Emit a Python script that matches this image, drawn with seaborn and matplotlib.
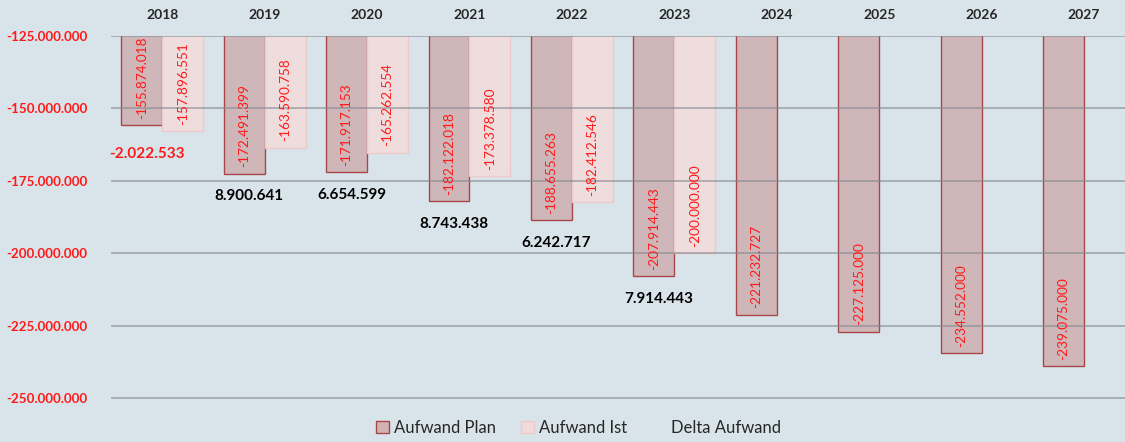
import numpy as np
import pandas as pd
import matplotlib
matplotlib.use('Agg')
import matplotlib.pyplot as plt
from matplotlib.patches import Patch
import seaborn as sns

years = ["2018", "2019", "2020", "2021", "2022", "2023", "2024", "2025", "2026", "2027"]
plan = [-155874018, -172491399, -171917153, -182122018, -188655263, -207914443,
        -221232727, -227125000, -234552000, -239075000]
ist = [-157896551, -163590758, -165262554, -173378580, -182412546, -200000000,
       np.nan, np.nan, np.nan, np.nan]
delta = [-2022533, 8900641, 6654599, 8743438, 6242717, 7914443]

bg = "#d9e4ea"
plan_fill = "#d3b2b4"
plan_edge = "#a8474a"
ist_fill = "#f2dadb"
ist_edge = "#ecc9ca"
red = "#ff1a1a"


def fmt(v):
    return f"{v:,.0f}".replace(",", ".")


df = pd.DataFrame({
    "Jahr": years * 2,
    "Wert": plan + ist,
    "Serie": ["Aufwand Plan"] * len(years) + ["Aufwand Ist"] * len(years),
})

sns.set_style("white")
plt.rcParams['font.family'] = ['Lato', 'DejaVu Sans']

fig = plt.figure(figsize=(11.25, 4.42), dpi=100, facecolor=bg)
ax = fig.add_axes([111 / 1125, 1 - 415 / 442, 1 - 111 / 1125, (415 - 36) / 442])
ax.set_facecolor(bg)

sns.barplot(data=df, x="Jahr", y="Wert", hue="Serie", ax=ax,
            palette={"Aufwand Plan": plan_fill, "Aufwand Ist": ist_fill},
            width=0.8, legend=False, zorder=2, errorbar=None)

edges = {0: plan_edge, 1: ist_edge}
for k, cont in enumerate(ax.containers):
    for b in cont:
        b.set_edgecolor(edges[k])
        b.set_linewidth(1.0)

ax.set_ylim(-125e6 - (415 - 36) / 2.896 * 1e6, -125e6)
ax.set_xlim(-0.5, 9.4)
ticks = np.arange(-250e6, -124e6, 25e6)
ax.set_yticks(ticks)
ax.set_yticklabels([fmt(v) for v in ticks], color=red, fontweight="bold", fontsize=9.6)
ax.set_axisbelow(False)
ax.grid(axis="y", color="#868b90", linewidth=1.2, alpha=0.7, zorder=3)
ax.xaxis.tick_top()
ax.tick_params(axis="x", length=0, pad=11, labelsize=10)
ax.tick_params(axis="y", length=0, pad=17)
for lbl in ax.get_xticklabels():
    lbl.set_fontweight("bold")
ax.set_xlabel("")
ax.set_ylabel("")
for s in ax.spines.values():
    s.set_visible(False)

# value labels inside bars
for i in range(len(years)):
    ax.text(i - 0.2, plan[i] + 2.2e6, fmt(plan[i]), rotation=90, ha="center",
            va="bottom", color=red, fontsize=9.8, zorder=5)
    if not np.isnan(ist[i]):
        ax.text(i + 0.2, ist[i] + 2.2e6, fmt(ist[i]), rotation=90, ha="center",
                va="bottom", color=red, fontsize=9.8, zorder=5)

# delta labels
for i, d in enumerate(delta):
    low = min(plan[i], ist[i])
    ax.text(i - 0.15, low - 5.5e6, fmt(d), ha="center", va="top",
            color=red if d < 0 else "black", fontweight="bold", fontsize=11, zorder=5)

handles = [
    Patch(facecolor=plan_fill, edgecolor=plan_edge, label="Aufwand Plan"),
    Patch(facecolor=ist_fill, edgecolor=ist_edge, label="Aufwand Ist"),
    Patch(facecolor="none", edgecolor="none", label="Delta Aufwand"),
]
fig.legend(handles=handles, loc="lower center", bbox_to_anchor=(0.514, -0.02),
           ncol=3, frameon=False, fontsize=12, handlelength=0.8, handleheight=0.8,
           handletextpad=0.3, columnspacing=1.5)

fig.savefig("out.png", dpi=100, facecolor=bg)
